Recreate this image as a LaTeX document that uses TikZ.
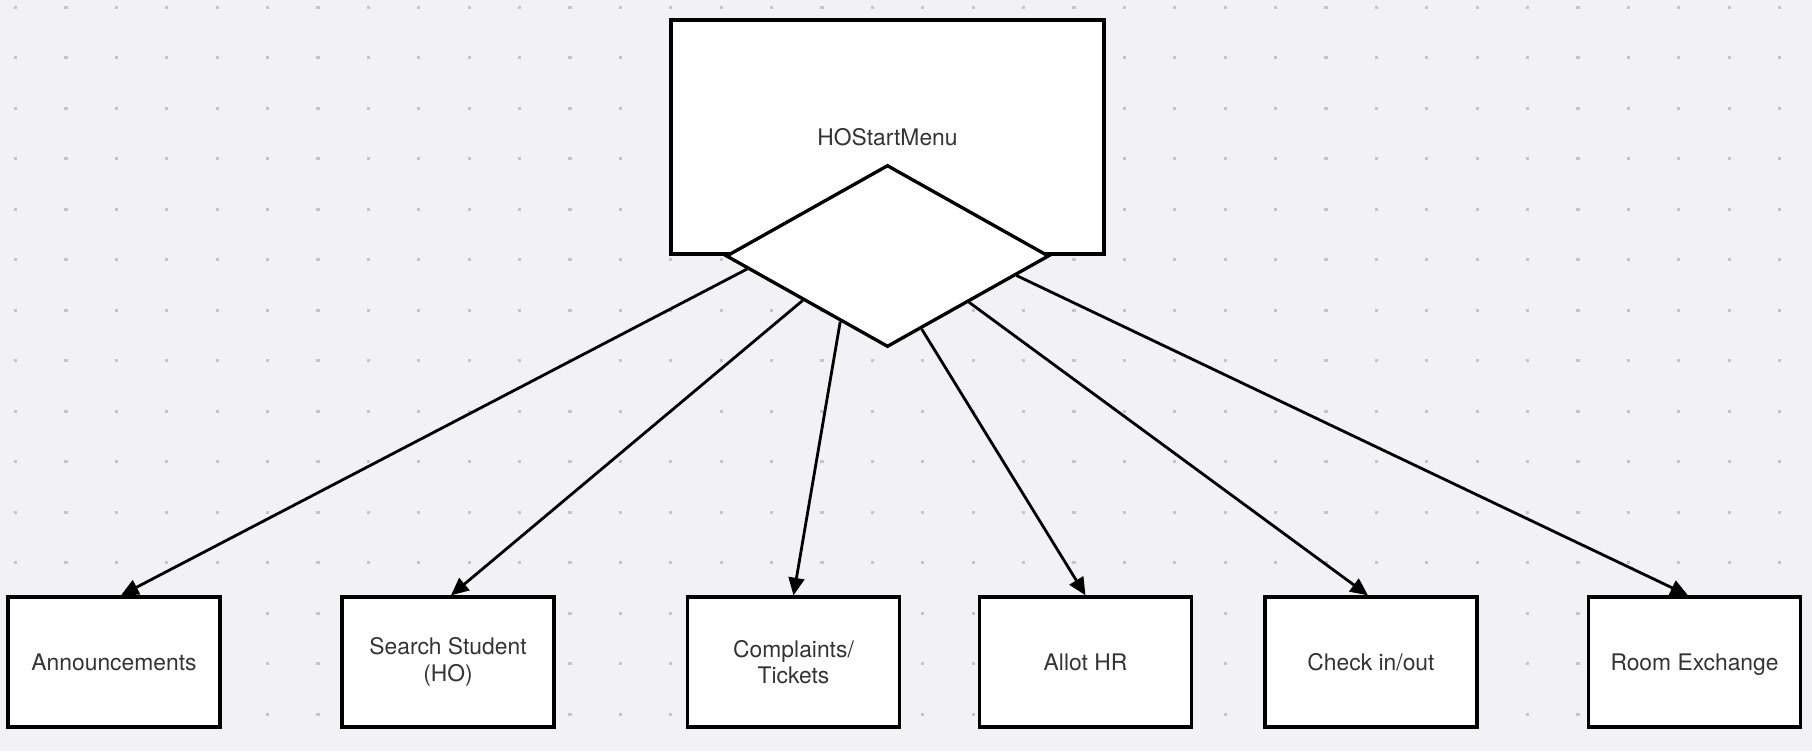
\documentclass[tikz,border=0pt]{standalone}
\usepackage{fontspec}
\setmainfont{TeX Gyre Heros}
\usetikzlibrary{arrows.meta,shapes.geometric,calc}
\definecolor{canvas}{RGB}{242, 242, 244}
\definecolor{griddot}{RGB}{196, 196, 201}
\definecolor{inkgray}{RGB}{52, 52, 52}

\tikzset{
    menubox/.style={draw=black, fill=white, line width=1.9pt, inner sep=0pt, align=center,
                    text=inkgray, font=\fontsize{13}{15}\selectfont},
    pagebox/.style={menubox, minimum width=4.24cm, minimum height=2.6cm},
    choice/.style={diamond, draw=black, fill=white, line width=1.9pt, inner sep=0pt,
                   minimum width=6.46cm, minimum height=3.64cm},
    link/.style={line width=1.6pt, -{Triangle[length=10pt, width=9pt]}}
}

\begin{document}
\begin{tikzpicture}[x=0.02cm, y=-0.02cm]
            \fill[canvas]                        (0, 0) rectangle (1812, 751);
            \useasboundingbox                    (0, 0) rectangle (1812, 751);
            \foreach \i in {0,...,35}
                \foreach \j in {0,...,14}
                    \fill[griddot] (15.5+50.4*\i-1.6, 7.3+50.5*\j-1.6) rectangle ++(3.2, 3.2);
            \node[menubox, minimum width=8.66cm, minimum height=4.68cm] (start) at ( 887.5, 137) {HOStartMenu};
            \node[choice]                                              (menu)  at ( 887.5, 256) {};
            \node[pagebox] (announce)  at ( 114.0, 662) {Announcements};
            \node[pagebox] (search)    at ( 448.0, 662) {Search Student\\(HO)};
            \node[pagebox] (complaint) at ( 793.5, 662) {Complaints/\\Tickets};
            \node[pagebox] (allot)     at (1085.5, 662) {Allot HR};
            \node[pagebox] (checkio)   at (1371.0, 662) {Check in/out};
            \node[pagebox, text depth=0pt] (exchange) at (1694.5, 662) {Room Exchange};
            % arrows from the menu diamond to each page
            \draw[link] ($(menu.west)!0.14!(menu.south)$) -- ([xshift=0.14cm]announce.north);
            \draw[link] ($(menu.west)!0.48!(menu.south)$) -- ([xshift=0.06cm]search.north);
            \draw[link] ($(menu.west)!0.71!(menu.south)$) -- (complaint.north);
            \draw[link] ($(menu.south)!0.21!(menu.east)$) -- (allot.north);
            \draw[link] ($(menu.south)!0.50!(menu.east)$) -- ([xshift=-0.06cm]checkio.north);
            \draw[link] ($(menu.south)!0.79!(menu.east)$) -- ([xshift=-0.13cm]exchange.north);
        \end{tikzpicture}
\end{document}
